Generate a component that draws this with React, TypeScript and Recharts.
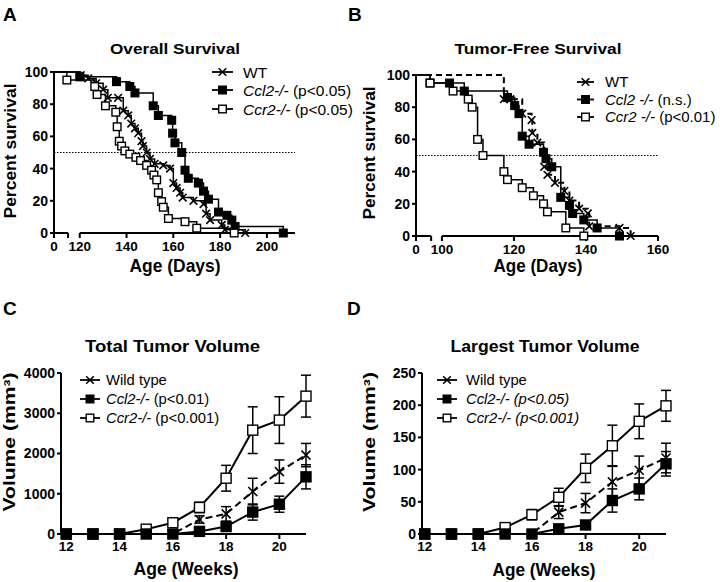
import React from "react";
import { LineChart, Line, XAxis, YAxis, ReferenceLine, ErrorBar } from "recharts";

const FONT = '"Liberation Sans", Arial, Helvetica, sans-serif';

type Pt = [number, number];

// A - overall survival: [age in days, percent surviving].
// Left of the axis break the x values sit on the compressed "0" segment.
const overallZero = 109;
const overallBreak = 115;
const overallTicks = [109, 115, 120, 140, 160, 180, 200];
const wtOverall: Pt[] = [[109, 100], [120.4, 98], [123.6, 96], [127, 93], [130, 89], [132, 84], [136.4, 84], [138.6, 76], [140.7, 73], [142, 68], [143.6, 65], [145, 62], [146.4, 57], [147, 54], [148.6, 50], [150, 46], [152, 43], [155.7, 42], [158.6, 40], [160, 31], [161.4, 28], [162.9, 25], [164, 22], [168.6, 20], [172.9, 18], [174, 12], [175.7, 8], [180.7, 5], [182, 2], [190.7, 0]];
const ccl2Overall: Pt[] = [[109, 100], [120, 97], [135.7, 94], [141.4, 91], [143.6, 87], [151.4, 79], [153.6, 73], [159.3, 70], [159.7, 62], [160.7, 56], [163.6, 50], [165, 39], [166.4, 34], [170.7, 31], [172.9, 26], [175, 21], [179.3, 13], [182.9, 11], [185, 8], [186.4, 4], [207, 0]];
const ccr2Overall: Pt[] = [[109, 100], [114.5, 95], [126.4, 91], [127.4, 86], [131, 79], [135.4, 75], [136, 66], [136.9, 57], [137.9, 54], [139.3, 51], [141.4, 49], [144, 47], [146, 45], [148.6, 42], [150.7, 39], [151.7, 36], [152.9, 33], [153.6, 25], [155, 19.5], [155.7, 16], [157.9, 9], [165, 7], [170, 3], [186, 0]];

// B - tumor-free survival
const freeZero = 92.8;
const freeBreak = 97;
const freeTicks = [92.8, 97, 100, 120, 140, 160];
const wtFree: Pt[] = [[92.8, 100], [117.2, 85], [119, 85], [122.3, 76], [124.9, 72], [125.1, 64], [126.5, 58], [128.4, 43], [129.3, 38], [131.4, 33], [134, 28], [135.4, 22], [138.1, 17], [140.5, 14], [140.9, 6], [149.3, 5], [152.4, 0]];
const ccl2Free: Pt[] = [[92.8, 100], [96.7, 95], [102.1, 95], [106.2, 90], [118.2, 86], [120.2, 81], [121.4, 76], [122.3, 62], [124.2, 57], [128.2, 52], [128.9, 48], [130.5, 43], [133, 24], [135.4, 19], [136.3, 14], [139.4, 10], [143.1, 5], [149.3, 0]];
const ccr2Free: Pt[] = [[92.8, 100], [96.7, 95], [103.1, 90], [107.3, 85], [108.4, 80], [109.9, 60], [111.4, 50], [117.2, 40], [118.2, 35], [122.3, 30], [125.4, 25], [128.2, 20], [129.3, 15], [134.4, 5], [139.4, 0]];

// C / D - tumor volume by week (mean, SEM)
const weeks = [12, 13, 14, 15, 16, 17, 18, 19, 20, 21];
const wtTotal = [0, 0, 0, 0, 0, 360, 500, 1055, 1550, 1960];
const wtTotalErr = [0, 0, 0, 0, 0, 90, 180, 330, 290, 290];
const ccl2Total = [0, 0, 0, 0, 0, 65, 185, 545, 740, 1420];
const ccl2TotalErr = [0, 0, 0, 0, 0, 30, 60, 200, 200, 300];
const ccr2Total = [0, 0, 0, 120, 280, 660, 1386, 2580, 2830, 3425];
const ccr2TotalErr = [0, 0, 0, 20, 50, 130, 320, 580, 580, 520];

const wtLargest = [0, 0, 0, 0, 0, 34, 48, 81, 99, 118];
const wtLargestErr = [0, 0, 0, 0, 0, 10, 15, 25, 22, 23];
const ccl2Largest = [0, 0, 0, 0, 0, 8, 14, 52, 70, 109];
const ccl2LargestErr = [0, 0, 0, 0, 0, 3, 6, 18, 17, 19];
const ccr2Largest = [0, 0, 0, 10, 30, 57, 102, 137, 175, 199];
const ccr2LargestErr = [0, 0, 0, 2, 8, 14, 22, 32, 27, 24];

const toPts = (pts: Pt[]) => pts.map(([day, pct]) => ({ day, pct }));

const totalRows = weeks.map((w, i) => ({
  week: w,
  wt: wtTotal[i], wtErr: wtTotalErr[i],
  ccl2: ccl2Total[i], ccl2Err: ccl2TotalErr[i],
  ccr2: ccr2Total[i], ccr2Err: ccr2TotalErr[i],
}));
const largestRows = weeks.map((w, i) => ({
  week: w,
  wt: wtLargest[i], wtErr: wtLargestErr[i],
  ccl2: ccl2Largest[i], ccl2Err: ccl2LargestErr[i],
  ccr2: ccr2Largest[i], ccr2Err: ccr2LargestErr[i],
}));

type Kind = "x" | "filled" | "open";

function Mark({ kind, cx, cy, s }: { kind: Kind; cx: number; cy: number; s: number }) {
  if (kind === "x") {
    return (
      <g stroke="#000" strokeWidth={1.6}>
        <line x1={cx - s} y1={cy - s} x2={cx + s} y2={cy + s} />
        <line x1={cx - s} y1={cy + s} x2={cx + s} y2={cy - s} />
      </g>
    );
  }
  return (
    <rect x={cx - s} y={cy - s} width={2 * s} height={2 * s}
      fill={kind === "filled" ? "#000" : "#fff"} stroke="#000" strokeWidth={1.4} />
  );
}

const dotFn = (kind: Kind, s: number, skipFirst: boolean) => (p: any) => {
  const { cx, cy, index } = p;
  if (cx == null || cy == null || (skipFirst && index === 0)) return <g key={`n-${kind}-${index}`} />;
  return <g key={`${kind}-${index}`}><Mark kind={kind} cx={cx} cy={cy} s={s} /></g>;
};

const tickStyle = { fill: "#000", fontSize: 13.5, fontWeight: 700, fontFamily: FONT };
const yTickStyle = { ...tickStyle, fontSize: 14 };
const axisStroke = { stroke: "#000", strokeWidth: 2 };

function SurvivalPanel({ zero, brk, max, ticks, wt, ccl2, ccr2, margin }: any) {
  return (
    <LineChart width={360} height={290} margin={margin}>
      <XAxis type="number" dataKey="day" domain={[zero, max]} ticks={ticks} interval={0}
        axisLine={false} tickLine={axisStroke} tickSize={5} tickMargin={3}
        height={30} tick={tickStyle}
        tickFormatter={(v: number) => (v === zero ? "0" : v === brk ? "" : String(v))} />
      <YAxis type="number" domain={[0, 100]} ticks={[0, 20, 40, 60, 80, 100]} interval={0}
        width={40} axisLine={axisStroke} tickLine={axisStroke} tickSize={4}
        tickMargin={2} tick={yTickStyle} />
      {/* broken x axis: short "0" stub, then the main run */}
      <ReferenceLine segment={[{ x: zero, y: 0 }, { x: brk, y: 0 }]} stroke="#000" strokeWidth={2} ifOverflow="visible" />
      <ReferenceLine segment={[{ x: ticks[2], y: 0 }, { x: max, y: 0 }]} stroke="#000" strokeWidth={2} ifOverflow="visible" />
      <ReferenceLine y={50} stroke="#000" strokeWidth={1.2} strokeDasharray="1.5 1.5" />
      <Line data={toPts(wt.pts)} dataKey="pct" type="stepAfter" stroke="#000" strokeWidth={wt.dash ? 2 : 1.5}
        strokeDasharray={wt.dash} dot={dotFn("x", 3.8, true)} isAnimationActive={false} />
      <Line data={toPts(ccl2)} dataKey="pct" type="stepAfter" stroke="#000" strokeWidth={1.5}
        dot={dotFn("filled", 3.8, true)} isAnimationActive={false} />
      <Line data={toPts(ccr2)} dataKey="pct" type="stepAfter" stroke="#000" strokeWidth={1.5}
        dot={dotFn("open", 3.8, true)} isAnimationActive={false} />
    </LineChart>
  );
}

function VolumePanel({ rows, yMax, yTicks, xMin, yWidth, margin }: any) {
  return (
    <LineChart width={360} height={292} data={rows} margin={margin}>
      <XAxis type="number" dataKey="week" domain={[xMin, 21]} ticks={[12, 14, 16, 18, 20]} interval={0}
        axisLine={axisStroke} tickLine={axisStroke} tickSize={5} tickMargin={2}
        height={30} tick={tickStyle} />
      <YAxis type="number" domain={[0, yMax]} ticks={yTicks} interval={0}
        width={yWidth} axisLine={axisStroke} tickLine={axisStroke} tickSize={4} tickMargin={2} tick={yTickStyle} />
      {/* lines and error bars */}
      <Line dataKey="ccr2" stroke="#000" strokeWidth={2} dot={false} activeDot={false} isAnimationActive={false}>
        <ErrorBar dataKey="ccr2Err" width={5} stroke="#000" strokeWidth={1.5} direction="y" isAnimationActive={false} />
      </Line>
      <Line dataKey="wt" stroke="#000" strokeWidth={2} strokeDasharray="7 4" dot={false} activeDot={false} isAnimationActive={false}>
        <ErrorBar dataKey="wtErr" width={5} stroke="#000" strokeWidth={1.5} direction="y" isAnimationActive={false} />
      </Line>
      <Line dataKey="ccl2" stroke="#000" strokeWidth={2} dot={false} activeDot={false} isAnimationActive={false}>
        <ErrorBar dataKey="ccl2Err" width={5} stroke="#000" strokeWidth={1.5} direction="y" isAnimationActive={false} />
      </Line>
      {/* symbols on top */}
      <Line dataKey="ccr2" stroke="none" dot={dotFn("open", 5, false)} activeDot={false} isAnimationActive={false} />
      <Line dataKey="wt" stroke="none" dot={dotFn("x", 4.5, false)} activeDot={false} isAnimationActive={false} />
      <Line dataKey="ccl2" stroke="none" dot={dotFn("filled", 5, false)} activeDot={false} isAnimationActive={false} />
    </LineChart>
  );
}

type LegendItem = { kind: Kind; gene: string; note: string; italicGene: boolean; italicNote?: boolean };

function LegendBlock({ x0, x1, tx, ys, items, size }: { x0: number; x1: number; tx: number; ys: number[]; items: LegendItem[]; size: number }) {
  return (
    <g>
      {items.map((it, i) => (
        <g key={i}>
          <line x1={x0} y1={ys[i]} x2={x1} y2={ys[i]} stroke="#000" strokeWidth={1.8} />
          <Mark kind={it.kind} cx={(x0 + x1) / 2} cy={ys[i]} s={3.8} />
          <text x={tx} y={ys[i] + size * 0.36} fontSize={size} fontFamily={FONT} fill="#000">
            <tspan fontStyle={it.italicGene ? "italic" : "normal"}>{it.gene}</tspan>
            <tspan fontStyle={it.italicNote ? "italic" : "normal"}>{it.note}</tspan>
          </text>
        </g>
      ))}
    </g>
  );
}

const legendA: LegendItem[] = [
  { kind: "x", gene: "WT", note: "", italicGene: false },
  { kind: "filled", gene: "Ccl2-/-", note: " (p<0.05)", italicGene: true },
  { kind: "open", gene: "Ccr2-/-", note: " (p<0.05)", italicGene: true },
];
const legendB: LegendItem[] = [
  { kind: "x", gene: "WT", note: "", italicGene: false },
  { kind: "filled", gene: "Ccl2 -/-", note: " (n.s.)", italicGene: true },
  { kind: "open", gene: "Ccr2 -/-", note: " (p<0.01)", italicGene: true },
];
const legendC: LegendItem[] = [
  { kind: "x", gene: "Wild type", note: "", italicGene: false },
  { kind: "filled", gene: "Ccl2-/-", note: " (p<0.01)", italicGene: true },
  { kind: "open", gene: "Ccr2-/-", note: " (p<0.001)", italicGene: true },
];
const legendD: LegendItem[] = [
  { kind: "x", gene: "Wild type", note: "", italicGene: false },
  { kind: "filled", gene: "Ccl2-/-", note: " (p<0.05)", italicGene: true, italicNote: true },
  { kind: "open", gene: "Ccr2-/-", note: " (p<0.001)", italicGene: true, italicNote: true },
];

function Label({ x, y, size, len, rotate, children }: { x: number; y: number; size: number; len: number; rotate?: boolean; children: React.ReactNode }) {
  return (
    <text transform={`translate(${x},${y})${rotate ? " rotate(-90)" : ""}`} fontSize={size} textAnchor="middle"
      textLength={len} lengthAdjust="spacingAndGlyphs" fontFamily={FONT} fontWeight={700} fill="#000">
      {children}
    </text>
  );
}

export default function App() {
  const bold = { fontFamily: FONT, fontWeight: 700, fill: "#000" } as const;
  return (
    <div style={{ position: "absolute", left: 0, top: 0, width: 720, height: 582, background: "#fff", overflow: "hidden" }}>
      <div style={{ position: "absolute", left: 0, top: 0 }}>
        <SurvivalPanel zero={overallZero} brk={overallBreak} max={212} ticks={overallTicks}
          wt={{ pts: wtOverall }} ccl2={ccl2Overall} ccr2={ccr2Overall}
          margin={{ top: 72, right: 65, bottom: 27, left: 14 }} />
      </div>
      <div style={{ position: "absolute", left: 360, top: 0 }}>
        <SurvivalPanel zero={freeZero} brk={freeBreak} max={160} ticks={freeTicks}
          wt={{ pts: wtFree, dash: "6 4" }} ccl2={ccl2Free} ccr2={ccr2Free}
          margin={{ top: 75, right: 62, bottom: 24, left: 16 }} />
      </div>
      <div style={{ position: "absolute", left: 0, top: 290 }}>
        <VolumePanel rows={totalRows} yMax={4000} yTicks={[0, 1000, 2000, 3000, 4000]} xMin={11.8}
          yWidth={45} margin={{ top: 83, right: 54, bottom: 18, left: 16 }} />
      </div>
      <div style={{ position: "absolute", left: 360, top: 290 }}>
        <VolumePanel rows={largestRows} yMax={250} yTicks={[0, 50, 100, 150, 200, 250]} xMin={11.9}
          yWidth={40} margin={{ top: 83, right: 54, bottom: 18, left: 22 }} />
      </div>
      <svg width={720} height={582} style={{ position: "absolute", left: 0, top: 0, pointerEvents: "none" }}>
        <text x={3} y={21} fontSize={19} {...bold}>A</text>
        <text x={348} y={21} fontSize={19} {...bold}>B</text>
        <text x={3} y={315} fontSize={19} {...bold}>C</text>
        <text x={347} y={315} fontSize={19} {...bold}>D</text>

        <Label x={175} y={54} size={15.5} len={130}>Overall Survival</Label>
        <Label x={538} y={54} size={15.5} len={167}>Tumor-Free Survival</Label>
        <Label x={172.5} y={352} size={16} len={175}>Total Tumor Volume</Label>
        <Label x={545} y={352} size={16} len={189}>Largest Tumor Volume</Label>

        <Label x={175} y={272} size={17.5} len={91}>Age (Days)</Label>
        <Label x={538} y={272} size={17.5} len={89}>Age (Days)</Label>
        <Label x={186} y={575} size={17.5} len={105}>Age (Weeks)</Label>
        <Label x={544} y={576} size={17.5} len={103}>Age (Weeks)</Label>

        <Label x={16} y={151} size={16.5} len={135} rotate>Percent survival</Label>
        <Label x={375} y={153} size={16.5} len={133} rotate>Percent survival</Label>
        <Label x={15} y={442} size={16.5} len={139} rotate>Volume (mm³)</Label>
        <Label x={375} y={442} size={16.5} len={140} rotate>Volume (mm³)</Label>

        <LegendBlock x0={212} x1={233} tx={243} ys={[72, 90, 109]} items={legendA} size={15.5} />
        <LegendBlock x0={577} x1={594} tx={605} ys={[82, 99.5, 117]} items={legendB} size={15} />
        <LegendBlock x0={80} x1={100} tx={106} ys={[380, 399, 418]} items={legendC} size={14.8} />
        <LegendBlock x0={437} x1={457} tx={466} ys={[380, 399, 418]} items={legendD} size={14.8} />
      </svg>
    </div>
  );
}
